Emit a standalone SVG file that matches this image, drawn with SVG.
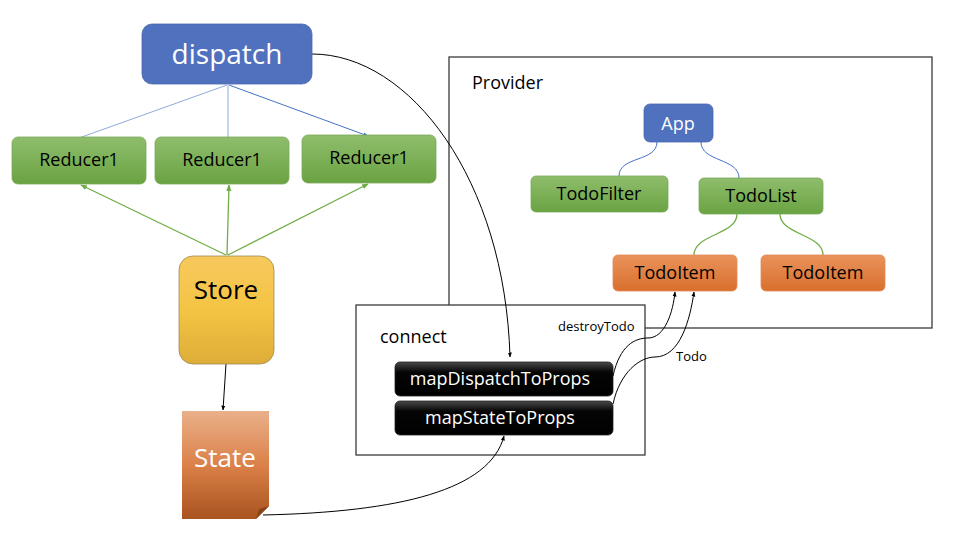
<svg xmlns="http://www.w3.org/2000/svg" width="960" height="540" viewBox="0 0 960 540">
<defs>
<linearGradient id="gGreen" x1="0" y1="0" x2="0" y2="1"><stop offset="0" stop-color="#8fbd6c"/><stop offset="1" stop-color="#6aa342"/></linearGradient>
<linearGradient id="gOrange" x1="0" y1="0" x2="0" y2="1"><stop offset="0" stop-color="#e9935c"/><stop offset="1" stop-color="#d96f2c"/></linearGradient>
<linearGradient id="gGold" x1="0" y1="0" x2="0" y2="1"><stop offset="0" stop-color="#f7c95c"/><stop offset="0.5" stop-color="#f4c444"/><stop offset="1" stop-color="#ddad38"/></linearGradient>
<linearGradient id="gState" x1="0" y1="0" x2="0" y2="1"><stop offset="0" stop-color="#eab08a"/><stop offset="0.5" stop-color="#db8149"/><stop offset="1" stop-color="#a9531f"/></linearGradient>
<linearGradient id="gBlack" x1="0" y1="0" x2="0" y2="1"><stop offset="0" stop-color="#4a4a4a"/><stop offset="0.3" stop-color="#050505"/><stop offset="1" stop-color="#000"/></linearGradient>
<marker id="aBlack" viewBox="0 0 10 10" refX="9" refY="5" markerWidth="5" markerHeight="5" orient="auto"><path d="M0,1 L10,5 L0,9 z" fill="#000"/></marker>
<marker id="aBlue" viewBox="0 0 10 10" refX="9" refY="5" markerWidth="5" markerHeight="5" orient="auto"><path d="M0,1 L10,5 L0,9 z" fill="#4472c4"/></marker>
<marker id="aGreen" viewBox="0 0 10 10" refX="9" refY="5" markerWidth="5" markerHeight="5" orient="auto"><path d="M0,1 L10,5 L0,9 z" fill="#70ad47"/></marker>
</defs>
<style>
text{font-family:"Open Sans","Noto Sans","Liberation Sans",sans-serif;}
.green{fill:url(#gGreen);stroke:#7aa85a;stroke-width:0.8;}
.orange{fill:url(#gOrange);stroke:#e08a55;stroke-width:0.8;}
.blue{fill:#4f71be;stroke:#4a68ad;stroke-width:0.8;}
.btn{fill:url(#gBlack);stroke:#222;stroke-width:0.8;}
.lbl{font-size:18px;fill:#000;text-anchor:middle;}
.wlbl{font-size:18px;fill:#fff;text-anchor:middle;}
.frame{fill:#fff;stroke:#3a3a3a;stroke-width:1.3;}
.bk{fill:none;stroke:#000;stroke-width:1;}
.gl{fill:none;stroke:#70ad47;stroke-width:1.3;}
.bl{fill:none;stroke:#4472c4;stroke-width:1;}
.small{font-size:13px;fill:#000;}
</style>

<g id="provider">
<rect class="frame" x="449" y="57" width="483" height="271"/>
<text x="472" y="89" style="font-size:18px">Provider</text>
</g>

<g id="connectors">
<path class="bl" d="M227,85 L79,138" stroke-opacity="0.6"/>
<path class="bl" d="M228,85 L228,137" stroke-opacity="0.6"/>
<path class="bl" d="M229,85 L368,136" marker-end="url(#aBlue)"/>
<path class="gl" d="M226,255 L81,185" marker-end="url(#aGreen)"/>
<path class="gl" d="M227,255 L229,185" marker-end="url(#aGreen)"/>
<path class="gl" d="M228,255 L368,184" marker-end="url(#aGreen)"/>
<path class="bk" d="M226,364 L223,410" marker-end="url(#aBlack)"/>
<path class="bl" d="M657,142 C657,162 619,156 619,176"/>
<path class="bl" d="M701,142 C701,162 739,158 739,178"/>
<path class="gl" d="M737,214 C737,235 694,234 694,255"/>
<path class="gl" d="M780,214 C780,235 823,234 823,255"/>
</g>

<g id="connect">
<rect class="frame" x="356" y="305" width="289" height="150" stroke="#222" stroke-width="1.1"/>
<text x="380" y="343" style="font-size:18px">connect</text>
<text x="558" y="331" class="small">destroyTodo</text>
</g>

<g id="more-connectors">
<path class="bk" d="M312,54 C410,54 505,180 510,357" marker-end="url(#aBlack)"/>
<path class="bk" d="M263,515 C400,512 490,490 504,436" marker-end="url(#aBlack)"/>
<path class="bk" d="M613,376 C620,345 635,338 648,338 C665,338 673,312 675,292" marker-end="url(#aBlack)"/>
<path class="bk" d="M613,404 C620,372 640,357 655,357 C680,357 690,320 694,292" marker-end="url(#aBlack)"/>
<text x="676" y="361" class="small">Todo</text>
</g>

<g id="dispatch">
<rect class="blue" x="142" y="24" width="170" height="60" rx="10"/>
<text x="227" y="64" class="wlbl" style="font-size:28px">dispatch</text>
</g>

<g id="reducer-1">
<rect class="green" x="12" y="137" width="134" height="47" rx="6"/>
<text x="79" y="166" class="lbl">Reducer1</text>
</g>
<g id="reducer-2">
<rect class="green" x="155" y="137" width="134" height="47" rx="6"/>
<text x="222" y="166" class="lbl">Reducer1</text>
</g>
<g id="reducer-3">
<rect class="green" x="302" y="135" width="134" height="48" rx="6"/>
<text x="369" y="164" class="lbl">Reducer1</text>
</g>

<g id="store">
<rect x="179" y="256" width="95" height="108" rx="14" fill="url(#gGold)" stroke="#9c8a55" stroke-width="0.8"/>
<text x="226" y="299" class="lbl" style="font-size:26px">Store</text>
</g>

<g id="state">
<path d="M182,411 L269,411 L269,506 L256,519 L182,519 z" fill="url(#gState)"/>
<path d="M256,519 L259,509 L269,506 z" fill="#8a4417"/>
<text x="225" y="467" class="wlbl" style="font-size:26px">State</text>
</g>

<g id="mapDispatchToProps">
<rect class="btn" x="395" y="362" width="218" height="34" rx="5"/>
<text x="500" y="385" class="wlbl">mapDispatchToProps</text>
</g>
<g id="mapStateToProps">
<rect class="btn" x="395" y="401" width="218" height="34" rx="5"/>
<text x="500" y="424" class="wlbl">mapStateToProps</text>
</g>

<g id="app">
<rect class="blue" x="644" y="104" width="69" height="38" rx="6"/>
<text x="678" y="130" class="wlbl">App</text>
</g>
<g id="todofilter">
<rect class="green" x="531" y="176" width="137" height="36" rx="5"/>
<text x="599" y="200" class="lbl">TodoFilter</text>
</g>
<g id="todolist">
<rect class="green" x="699" y="178" width="124" height="36" rx="5"/>
<text x="761" y="202" class="lbl">TodoList</text>
</g>
<g id="todoitem-1">
<rect class="orange" x="613" y="255" width="124" height="36" rx="5"/>
<text x="675" y="279" class="lbl">TodoItem</text>
</g>
<g id="todoitem-2">
<rect class="orange" x="761" y="255" width="124" height="36" rx="5"/>
<text x="823" y="279" class="lbl">TodoItem</text>
</g>
</svg>
